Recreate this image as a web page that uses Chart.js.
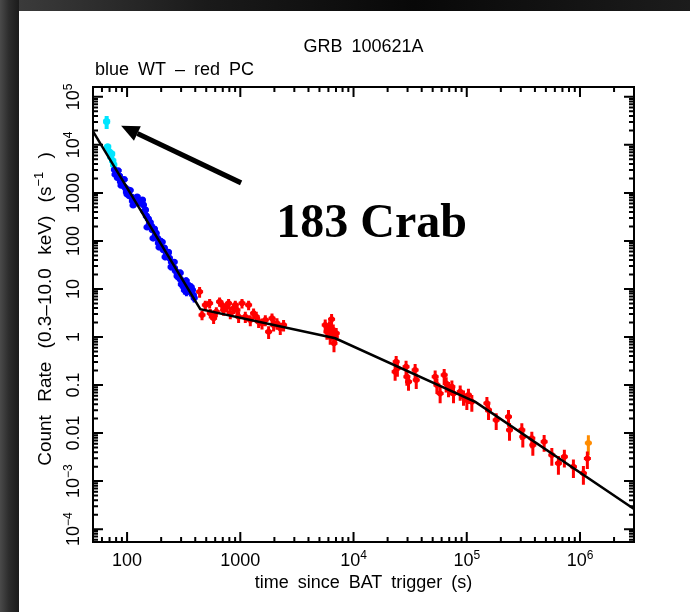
<!DOCTYPE html>
<html>
<head>
<meta charset="utf-8">
<script src="https://cdn.jsdelivr.net/npm/chart.js@4.4.0/dist/chart.umd.min.js"></script>
<style>
  html, body { margin: 0; padding: 0; width: 690px; height: 612px; overflow: hidden; background: #141414; }
  #topband { position: absolute; left: 0; top: 0; width: 690px; height: 11px;
    background: linear-gradient(90deg, #3e3e3e 0%, #1a1a1a 30%, #080808 60%, #1c1c1c 100%); }
  #leftband { position: absolute; left: 0; top: 0; width: 19px; height: 612px;
    background: linear-gradient(90deg, #4a4a4a 0px, #2c2c2c 9px, #1b1b1b 19px); }
  #panel { position: absolute; left: 19px; top: 11px; right: 0; bottom: 0; background: #fff; }
  #result { position: absolute; left: 0; top: 0; }
</style>
</head>
<body>
<div id="topband"></div>
<div id="leftband"></div>
<div id="panel"></div>
<canvas id="result" width="690" height="612"></canvas>
<script>
// WT settling-mode points (cyan)
const wtSettleTime = [66, 67.4, 69.5, 71.6, 73.1, 74.7, 76.2];
const wtSettleRate = [30600, 9090, 7150, 5620, 6500, 4640, 3830];
const wtSettleErr  = [0.3, 0.15, 0.15, 0.12, 0.12, 0.12, 0.12];

// Windowed Timing points (blue)
const wtTime = [77.3, 80.5, 82.1, 85.5, 87.3, 91.0, 92.7, 96.6, 98.6, 102.7, 104.8, 109.2, 111.4, 116.1,
  120.9, 126.0, 131.2, 136.6, 139.4, 145.3, 148.0, 154.2, 157.4, 164.0, 167.2, 174.2, 177.8, 185.2,
  188.9, 196.8, 200.9, 209.0, 213.3, 222.3, 231.6, 236.1, 246.2, 251.2, 261.8, 266.7, 277.9, 283.8,
  295.8, 301.3, 314.1, 320.6, 334.2, 340.6, 354.8, 362.2, 377.4, 384.6,
  78.4, 83.3, 88.6, 94.2, 100.1, 106.4, 113.1, 122.7, 133.1, 141.4, 150.3, 159.8, 169.8, 180.5,
  191.9, 204.0, 216.8, 230.4, 244.9, 260.4, 276.7, 294.2, 312.7, 332.4, 353.3, 367.9, 391.1];
const wtRate = [3015, 2610, 2053, 2260, 1695, 1866, 1400, 1271, 1049, 1155, 866, 826, 681, 619,
  750, 681, 619, 715, 562, 442, 332, 287, 226, 205, 169, 178, 133, 115,
  90.9, 100, 75, 64.9, 71.5, 53.6, 59, 44.2, 36.5, 30.1, 27.4, 24, 21.5, 17.5,
  16, 12.5, 11.5, 9.5, 8.66, 10.5, 11.5, 8.66, 9.53, 7.5,
  2405, 2930, 1427, 1910, 931, 1132, 552, 829, 631, 412, 192, 244, 113, 145,
  73.9, 94.4, 46.0, 56.0, 28.6, 36.5, 18.7, 21.6, 11.6, 14.8, 10.1, 11.0, 6.5];
const wtErr = [0.08, 0.08, 0.08, 0.08, 0.08, 0.08, 0.08, 0.09, 0.09, 0.09, 0.09, 0.09, 0.1, 0.1,
  0.1, 0.1, 0.1, 0.1, 0.1, 0.11, 0.11, 0.11, 0.11, 0.12, 0.12, 0.12, 0.12, 0.12,
  0.13, 0.13, 0.13, 0.13, 0.13, 0.14, 0.14, 0.14, 0.15, 0.15, 0.15, 0.16, 0.16, 0.17,
  0.17, 0.18, 0.18, 0.19, 0.19, 0.2, 0.2, 0.2, 0.2, 0.2,
  0.08, 0.08, 0.08, 0.08, 0.09, 0.09, 0.1, 0.1, 0.1, 0.11, 0.11, 0.12, 0.12, 0.12,
  0.13, 0.13, 0.14, 0.14, 0.15, 0.15, 0.16, 0.17, 0.18, 0.19, 0.2, 0.2, 0.2];

// Photon Counting points (red)
const pcTime = [437, 459, 491, 536, 543, 581, 614, 656, 690, 712, 763, 788, 816, 873, 903, 935,
  966, 1035, 1107, 1184, 1225, 1310, 1384, 1451, 1555, 1663, 1778, 1905, 1968, 2108, 2254, 2411,
  5623, 5821, 6138, 6400, 6480, 6620, 6902, 6720, 6223, 7031,
  23800, 23300, 24400, 29100, 29600, 30600, 35000, 35800, 52600, 54500, 58200, 63200, 65800,
  69000, 73900, 76400, 87500, 93600, 100200, 103500, 110900,
  150700, 155700, 182000, 233600, 238500, 306500, 312700, 375600, 383400, 482500, 564000,
  645000, 728000, 875000, 1072000, 1162000];
const pcRate = [8.79, 2.87, 4.64, 5.04, 3.12, 2.45, 3.37, 5.44, 4.64, 3.65, 4.28, 5.04, 3.12, 3.96, 4.64, 3.65,
  2.65, 5.04, 2.65, 4.64, 2.26, 3.12, 2.65, 2.08, 1.93, 2.26, 1.29, 2.45, 1.78, 1.93, 1.52, 1.78,
  1.78, 1.29, 1.64, 2.34, 1.19, 1.40, 1.01, 0.739, 1.01, 1.19,
  0.306, 0.189, 0.223, 0.240, 0.149, 0.117, 0.205, 0.127, 0.149, 0.1, 0.067, 0.162, 0.108,
  0.0853, 0.0922, 0.067, 0.0725, 0.057, 0.0487, 0.0619, 0.0449,
  0.0416, 0.0302, 0.0187, 0.0219, 0.01155, 0.01155, 0.00838, 0.00776, 0.00562, 0.00659, 0.00348,
  0.00234, 0.00321, 0.00199, 0.00145, 0.00297];
const pcErr = [0.25, 0.22, 0.22, 0.22, 0.22, 0.24, 0.24, 0.22, 0.22, 0.24, 0.24, 0.22, 0.25, 0.24, 0.22, 0.24,
  0.26, 0.22, 0.26, 0.22, 0.26, 0.25, 0.26, 0.26, 0.26, 0.26, 0.3, 0.26, 0.27, 0.27, 0.28, 0.27,
  0.3, 0.32, 0.3, 0.28, 0.3, 0.3, 0.32, 0.35, 0.32, 0.3,
  0.32, 0.35, 0.33, 0.33, 0.35, 0.35, 0.33, 0.35, 0.35, 0.35, 0.38, 0.33, 0.35,
  0.35, 0.35, 0.38, 0.35, 0.35, 0.38, 0.35, 0.38,
  0.35, 0.38, 0.38, 0.38, 0.4, 0.38, 0.4, 0.38, 0.4, 0.38, 0.4,
  0.42, 0.4, 0.42, 0.42, 0.4];

// PC upper limit (orange)
const pcLimitTime = [1186000];
const pcLimitRate = [0.0062];

// Broken power-law fit (black)
const modelTime = [50, 443, 6900, 120000, 3000000];
const modelRate = [19000, 3.8, 0.94, 0.044, 0.000264];

// Axis tick labels
const xTickValues = [100, 1000, 1e4, 1e5, 1e6];
const xTickLabels = ['100', '1000', '10^{4}', '10^{5}', '10^{6}'];
const yTickValues = [1e5, 1e4, 1000, 100, 10, 1, 0.1, 0.01, 1e-3, 1e-4];
const yTickLabels = ['10^{5}', '10^{4}', '1000', '100', '10', '1', '0.1', '0.01', '10^{\u22123}', '10^{\u22124}'];

const titleText = 'GRB 100621A';
const subtitleText = 'blue WT \u2013 red PC';
const xTitle = 'time since BAT trigger (s)';
const yTitle = 'Count Rate (0.3\u201310.0 keV) (s^{\u22121} )';
const noteText = '183 Crab';
// arrow from the note to the first settling point, in data units [time, rate]
const noteArrow = { from: [1016, 1616], to: [88.6, 24900] };
const noteAnchor = [2080, 121];

const FONT = '"Liberation Sans", Arial, sans-serif';

function pairs(xs, ys) {
  return xs.map((t, i) => ({ x: t, y: ys[i] }));
}

function parseRich(s) {
  let parts = [], re = /\^\{([^}]*)\}/g, last = 0, m;
  while ((m = re.exec(s))) {
    if (m.index > last) parts.push({ text: s.slice(last, m.index), sup: false });
    parts.push({ text: m[1], sup: true });
    last = re.lastIndex;
  }
  if (last < s.length) parts.push({ text: s.slice(last), sup: false });
  return parts;
}

// plotter style text: wide word gaps
function wordsWidth(ctx, text, gap) {
  return text.split(' ').reduce((w, word, i) => w + ctx.measureText(word).width + (i ? gap : 0), 0);
}

function drawWords(ctx, text, x, y, gap) {
  text.split(' ').forEach((word, i) => {
    if (i) x += gap;
    ctx.fillText(word, x, y);
    x += ctx.measureText(word).width;
  });
}

function drawRich(ctx, s, x, y, size, align, gapEm) {
  let parts = parseRich(s);
  let supSize = Math.round(size * 0.68);
  let gap = size * (gapEm || 0.5);
  let fontOf = p => (p.sup ? supSize : size) + 'px ' + FONT;
  let total = 0;
  parts.forEach(p => { ctx.font = fontOf(p); p.w = wordsWidth(ctx, p.text, gap); total += p.w; });
  let cx = align === 'center' ? x - total / 2 : (align === 'right' ? x - total : x);
  ctx.textAlign = 'left';
  ctx.textBaseline = 'alphabetic';
  parts.forEach(p => {
    ctx.font = fontOf(p);
    drawWords(ctx, p.text, cx, p.sup ? y - size * 0.4 : y, gap);
    cx += p.w;
  });
}

function decadeTicks(min, max) {
  let out = [];
  for (let e = Math.floor(Math.log10(min)); e <= Math.ceil(Math.log10(max)); e++) {
    for (let m = 1; m < 10; m++) {
      let v = m * Math.pow(10, e);
      if (v >= min * 0.999 && v <= max * 1.001) out.push([v, m === 1]);
    }
  }
  return out;
}

const errorBars = {
  id: 'errorBars',
  beforeDatasetsDraw(chart) {
    const { ctx, scales: { x, y } } = chart;
    ctx.save();
    chart.data.datasets.forEach(ds => {
      if (!ds.errFrac) return;
      ctx.strokeStyle = ds.backgroundColor;
      ctx.lineWidth = ds.barWidth || 3;
      ctx.beginPath();
      ds.data.forEach((p, i) => {
        let f = ds.errFrac[i];
        let px = x.getPixelForValue(p.x);
        let py = y.getPixelForValue(p.y);
        ctx.moveTo(px, y.getPixelForValue(p.y * (1 + f)));
        ctx.lineTo(px, y.getPixelForValue(p.y * (1 - f)));
        ctx.moveTo(px - 3.5, py);
        ctx.lineTo(px + 3.5, py);
      });
      ctx.stroke();
    });
    ctx.restore();
  }
};

const frameAndLabels = {
  id: 'frameAndLabels',
  afterDraw(chart) {
    const { ctx, chartArea: a, scales: { x, y } } = chart;
    ctx.save();
    ctx.strokeStyle = '#000';
    ctx.fillStyle = '#000';
    ctx.lineWidth = 2;
    ctx.lineCap = 'butt';
    ctx.strokeRect(a.left, a.top, a.right - a.left, a.bottom - a.top);

    ctx.beginPath();
    decadeTicks(x.min, x.max).forEach(([v, major]) => {
      let px = x.getPixelForValue(v), len = major ? 10 : 5;
      ctx.moveTo(px, a.bottom); ctx.lineTo(px, a.bottom - len);
      ctx.moveTo(px, a.top); ctx.lineTo(px, a.top + len);
    });
    decadeTicks(y.min, y.max).forEach(([v, major]) => {
      let py = y.getPixelForValue(v), len = major ? 10 : 5;
      ctx.moveTo(a.left, py); ctx.lineTo(a.left + len, py);
      ctx.moveTo(a.right, py); ctx.lineTo(a.right - len, py);
    });
    ctx.stroke();

    xTickValues.forEach((v, i) => drawRich(ctx, xTickLabels[i], x.getPixelForValue(v), a.bottom + 24, 18, 'center'));
    yTickValues.forEach((v, i) => {
      ctx.save();
      ctx.translate(a.left - 14, y.getPixelForValue(v));
      ctx.rotate(-Math.PI / 2);
      drawRich(ctx, yTickLabels[i], 0, 0, 18, 'center');
      ctx.restore();
    });

    drawRich(ctx, xTitle, (a.left + a.right) / 2, a.bottom + 46, 18, 'center');
    ctx.save();
    ctx.translate(51, 309);
    ctx.rotate(-Math.PI / 2);
    drawRich(ctx, yTitle, 0, 0, 19, 'center', 0.7);
    ctx.restore();

    drawRich(ctx, titleText, (a.left + a.right) / 2, 52, 18, 'center');
    drawRich(ctx, subtitleText, a.left + 2, 75, 18, 'left');

    // note with arrow
    let x0 = x.getPixelForValue(noteArrow.from[0]), y0 = y.getPixelForValue(noteArrow.from[1]);
    let x1 = x.getPixelForValue(noteArrow.to[0]), y1 = y.getPixelForValue(noteArrow.to[1]);
    let ang = Math.atan2(y1 - y0, x1 - x0);
    let head = 18, half = 8;
    let bx = x1 - head * Math.cos(ang), by = y1 - head * Math.sin(ang);
    ctx.lineWidth = 5;
    ctx.beginPath();
    ctx.moveTo(x0, y0);
    ctx.lineTo(bx, by);
    ctx.stroke();
    ctx.beginPath();
    ctx.moveTo(x1, y1);
    ctx.lineTo(bx + half * Math.sin(ang), by - half * Math.cos(ang));
    ctx.lineTo(bx - half * Math.sin(ang), by + half * Math.cos(ang));
    ctx.closePath();
    ctx.fill();

    ctx.font = 'bold 48px "Liberation Serif", "Times New Roman", serif';
    ctx.textAlign = 'left';
    ctx.textBaseline = 'alphabetic';
    ctx.fillText(noteText, x.getPixelForValue(noteAnchor[0]), y.getPixelForValue(noteAnchor[1]));
    ctx.restore();
  }
};

function mountChart() {
  let ctx = document.getElementById('result').getContext('2d');
  new Chart(ctx, {
    type: 'scatter',
    data: {
      datasets: [
        { data: pairs(modelTime, modelRate), showLine: true, borderColor: '#000', borderWidth: 2.5,
          pointRadius: 0, order: 0 },
        { data: pairs(pcLimitTime, pcLimitRate), errFrac: [0.45], backgroundColor: '#ff8c00',
          borderWidth: 0, pointRadius: 3, order: 1 },
        { data: pairs(pcTime, pcRate), errFrac: pcErr, backgroundColor: '#ff0000',
          borderWidth: 0, pointRadius: 3, order: 2 },
        { data: pairs(wtTime, wtRate), errFrac: wtErr, backgroundColor: '#0000ff',
          borderWidth: 0, pointRadius: 3.3, order: 3 },
        { data: pairs(wtSettleTime, wtSettleRate), errFrac: wtSettleErr, backgroundColor: '#00e5ff',
          barWidth: 4, borderWidth: 0, pointRadius: 3.5, order: 4 }
      ]
    },
    options: {
      responsive: false,
      animation: false,
      layout: { padding: { left: 93, top: 87, right: 56, bottom: 70 } },
      plugins: { legend: { display: false }, tooltip: { enabled: false } },
      scales: {
        x: { type: 'logarithmic', min: 50, max: 3e6, display: false },
        y: { type: 'logarithmic', min: 5.4e-5, max: 1.6e5, display: false }
      }
    },
    plugins: [errorBars, frameAndLabels]
  });
}

mountChart();
</script>
</body>
</html>
